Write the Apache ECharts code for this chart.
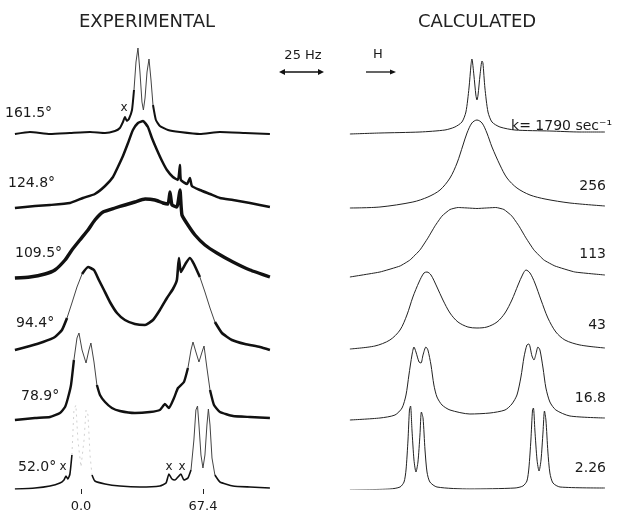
<!DOCTYPE html>
<html>
<head>
<meta charset="utf-8">
<script src="https://cdn.jsdelivr.net/npm/echarts@6/dist/echarts.min.js"></script>
<style>html,body{margin:0;padding:0;background:#fff}#c{width:638px;height:517px}</style>
</head>
<body>
<div id="c"></div>
<script>
// ---- Data: [frequency (Hz), intensity above baseline] ----
const tempLabels = ['161.5°', '124.8°', '109.5°', '94.4°', '78.9°', '52.0°'];
const rateLabels = ['k= 1790 sec⁻¹', '256', '113', '43', '16.8', '2.26'];
const tickValues = [0, 67.4];

const exp1 = [[-36.5,-1],[-28.2,1],[-17.1,-1],[-6.1,0],[5.0,1],[13.3,0],[18.8,2],[21.5,5],[23.2,11],[24.3,16],[25.4,12],[26.5,14],[28.2,23],[29.3,43],[30.4,71],[31.5,85],[32.6,61],[33.7,31],[34.5,23],[35.4,35],[36.5,61],[37.6,74],[38.7,53],[39.8,28],[41.4,13],[43.6,7],[48.1,3],[54.7,1],[65.7,-1],[76.8,1],[90.6,0],[104.4,-1]];
const exp2 = [[-36.5,-1],[-25.4,1],[-17.1,2],[-6.1,4],[1.1,9],[7.7,13],[13.3,21],[17.7,30],[20.4,40],[23.2,51],[26.0,64],[28.7,77],[31.5,84],[34.3,86],[37.0,80],[39.2,69],[42.0,57],[44.8,46],[47.5,37],[50.8,30],[53.6,27],[54.7,42],[55.2,27],[58.6,23],[60.2,29],[61.3,21],[65.7,17],[71.3,13],[76.8,9],[84.0,7],[93.4,4],[104.4,0]];
const exp3 = [[-36.5,-1],[-28.2,0],[-19.9,3],[-14.4,7],[-8.8,17],[-5.0,27],[-0.6,37],[3.9,47],[7.7,57],[12.2,65],[18.8,69],[24.3,72],[29.8,75],[35.4,78],[40.9,77],[45.3,74],[48.1,73],[49.2,85],[50.3,72],[53.0,70],[54.7,87],[55.8,62],[59.1,52],[63.0,42],[68.5,32],[75.1,24],[84.0,15],[93.4,7],[104.4,0]];
const exp4 = [[-36.5,0],[-28.2,4],[-21.0,8],[-14.4,13],[-10.5,20],[-7.7,32],[-5.0,47],[-2.2,63],[0.6,76],[3.9,83],[7.2,80],[9.9,70],[12.7,60],[16.0,48],[19.9,37],[24.3,30],[29.8,26],[35.4,25],[39.8,30],[43.6,40],[47.5,52],[50.8,61],[53.0,70],[54.1,92],[55.2,78],[58.0,87],[60.2,92],[62.4,86],[65.7,73],[68.5,58],[71.3,42],[74.0,28],[77.9,17],[83.4,10],[90.6,6],[98.9,3],[104.4,0]];
const exp5 = [[-36.5,-1],[-25.4,1],[-17.1,2],[-11.6,6],[-8.8,12],[-7.2,21],[-5.5,34],[-3.9,59],[-2.2,81],[-1.1,86],[0.6,69],[2.8,56],[4.4,69],[5.5,76],[7.2,57],[8.8,34],[10.5,24],[13.3,17],[17.1,11],[21.5,8],[29.8,6],[38.1,7],[43.6,9],[46.4,15],[48.6,11],[51.4,21],[53.6,31],[56.9,37],[59.1,51],[60.8,69],[61.9,77],[63.5,67],[65.2,57],[66.9,67],[68.0,73],[69.6,51],[71.3,29],[73.5,14],[76.8,7],[84.0,3],[93.4,2],[104.4,1]];
const exp6 = [[-36.5,-1],[-25.4,0],[-17.1,2],[-11.6,5],[-9.4,8],[-8.3,12],[-7.2,9],[-6.1,14],[-5.0,33],[-3.9,78],[-2.8,83],[-1.7,48],[0,21],[1.7,48],[2.8,78],[3.9,73],[5.0,33],[6.1,13],[7.7,7],[13.3,4],[21.5,2],[32.6,1],[43.6,2],[47.0,5],[48.6,14],[50.3,9],[51.9,8],[55.2,14],[56.9,8],[59.1,10],[60.8,18],[62.4,48],[63.5,78],[64.4,82],[65.2,63],[66.3,33],[67.4,20],[68.5,33],[69.6,63],[70.4,79],[71.3,63],[72.4,30],[74.0,13],[76.8,6],[84.0,2],[93.4,1],[104.4,0]];

const calc1 = [[-36.5,-1],[-19.9,0],[2.2,1],[16.0,3],[21.5,6],[25.4,11],[27.6,21],[29.3,45],[30.4,68],[30.9,74],[32.0,58],[33.1,38],[33.7,33],[34.3,38],[35.4,58],[36.5,72],[37.0,70],[38.1,45],[39.8,21],[42.0,11],[46.4,6],[54.7,3],[74.0,2],[90.6,1],[104.4,1]];
const calc2 = [[-36.5,-1],[-19.9,0],[-1.7,5],[6.6,10],[13.3,17],[18.8,29],[22.7,44],[26.0,62],[28.2,74],[30.9,84],[33.7,87],[36.5,84],[39.2,74],[42.0,60],[46.4,42],[50.3,29],[55.8,19],[63.0,12],[71.3,8],[85.1,4],[104.4,1]];
const calc3 = [[-36.5,0],[-19.9,5],[-8.8,11],[-3.3,17],[2.2,27],[6.6,39],[10.5,51],[14.4,61],[18.8,67.5],[23.2,69.5],[28.7,69],[33.7,68.5],[38.7,69],[44.2,69.5],[48.6,67.5],[53.0,61],[56.9,51],[60.8,39],[65.2,27],[70.7,17],[76.8,11],[87.8,5],[104.4,2]];
const calc4 = [[-36.5,0],[-22.7,3],[-14.4,9],[-8.8,19],[-5.0,34],[-1.7,52],[1.7,67],[4.4,76],[6.1,77],[8.3,74],[11.6,62],[14.9,49],[18.8,36],[23.2,27],[28.7,22],[33.7,21],[39.2,22],[44.8,27],[49.2,36],[53.0,49],[56.4,64],[59.1,75],[60.8,79],[63.0,76],[65.7,66],[69.1,49],[72.9,31],[77.3,17],[82.3,9],[90.6,4],[104.4,1]];
const calc5 = [[-36.5,-2],[-19.9,0],[-11.6,3],[-7.7,10],[-5.5,23],[-3.9,43],[-2.2,63],[-1.1,71],[0,66],[1.7,56],[2.8,55],[3.9,63],[5.5,71],[6.6,68],[8.3,53],[9.9,33],[11.6,21],[14.4,13],[18.8,8],[29.8,4],[40.9,5],[49.2,8],[53.0,14],[55.8,23],[58.0,41],[59.7,61],[61.3,73],[62.4,74],[64.1,62],[65.2,58],[66.3,64],[67.4,71],[68.5,68],[70.2,50],[71.8,30],[74.0,16],[77.3,8],[85.1,2],[104.4,0]];
const calc6 = [[-36.5,-1],[-14.4,0],[-8.8,2],[-6.6,7],[-5.5,19],[-4.4,49],[-3.6,79],[-3.0,83],[-2.2,59],[-1.1,29],[0,17],[1.1,27],[2.2,54],[3.0,77],[3.9,71],[5.0,39],[6.1,17],[7.7,7],[11.6,2],[29.8,0],[54.7,1],[59.1,3],[61.3,8],[62.4,21],[63.5,49],[64.4,79],[64.9,81],[65.7,59],[66.9,29],[68.0,18],[69.1,29],[70.2,57],[71.0,78],[71.8,69],[72.9,37],[74.0,16],[75.7,6],[79.6,2],[104.4,1]];

// ---- layout / styles (not data) ----
const H = 517;
const expBase = [133, 207, 277, 350, 419, 488];
const calcBase = [133, 207, 277, 349, 418, 489];
const expTraces = [exp1, exp2, exp3, exp4, exp5, exp6];
const calcTraces = [calc1, calc2, calc3, calc4, calc5, calc6];
const calcSmooth = [0.25, 0.3, 0.12, 0.3, 0.25, 0.25];
const expWidth = [2.0, 2.5, 3.4, 2.6, 2.4, 1.6];
const thinRanges = [
  [[29.3, 39.8, 'thin']],
  [],
  [],
  [[-7.7, 0.6, 'thin'], [65.7, 74.0, 'thin']],
  [[-3.9, 8.8, 'thin'], [59.1, 71.3, 'thin']],
  [[-5.0, 6.1, 'faint'], [60.8, 74.0, 'thin']]
];
const thinStyle = {thin: {color: '#444', width: 1, type: 'solid'}, faint: {color: '#d2d2d2', width: 1, type: [2, 4]}};

const series = [];
function yv(base, v) { return (H - base) + v; }
expTraces.forEach((tr, i) => {
  const ranges = thinRanges[i];
  const main = [];
  tr.forEach(p => {
    const inside = ranges.some(r => p[0] > r[0] && p[0] < r[1]);
    if (inside) { if (main.length && main[main.length - 1] !== null) main.push(null); }
    else main.push([p[0], yv(expBase[i], p[1])]);
  });
  series.push({type: 'line', xAxisIndex: 0, yAxisIndex: 0, data: main, showSymbol: false, connectNulls: false,
    smooth: 0.15, lineStyle: {color: '#111', width: expWidth[i], join: 'round'}, silent: true});
  ranges.forEach(r => {
    const d = tr.filter(p => p[0] >= r[0] && p[0] <= r[1]).map(p => [p[0], yv(expBase[i], p[1])]);
    const st = thinStyle[r[2]];
    series.push({type: 'line', xAxisIndex: 0, yAxisIndex: 0, data: d, showSymbol: false,
      lineStyle: {color: st.color, width: st.width, type: st.type}, silent: true});
  });
});
calcTraces.forEach((tr, i) => {
  series.push({type: 'line', xAxisIndex: 1, yAxisIndex: 1, data: tr.map(p => [p[0], yv(calcBase[i], p[1])]),
    showSymbol: false, smooth: calcSmooth[i], lineStyle: {color: '#222', width: 1}, silent: true});
});

const txt = (x, y, text, opt) => Object.assign({type: 'text', x: x, y: y, silent: true,
  style: Object.assign({text: text, fill: '#1a1a1a', font: '14px "DejaVu Sans"', textAlign: 'left', textVerticalAlign: 'middle'}, opt || {})});

const labelPos = [[5,113],[8,183],[15,253],[16,323],[21,396],[18,467]];
const ratePos = [[612,126],[606,186],[606,254],[606,325],[606,398],[606,468]];
const graphics = [
  txt(147, 22, 'EXPERIMENTAL', {font: '18px "DejaVu Sans"', textAlign: 'center', fill: '#222'}),
  txt(477, 22, 'CALCULATED', {font: '18px "DejaVu Sans"', textAlign: 'center', fill: '#222'}),
  txt(303, 56, '25 Hz', {font: '13px "DejaVu Sans"', textAlign: 'center'}),
  txt(378, 55, 'H', {font: '13px "DejaVu Sans"', textAlign: 'center'}),
  txt(124, 108, 'x', {font: '12px "DejaVu Sans"', textAlign: 'center'}),
  txt(63, 467, 'x', {font: '12px "DejaVu Sans"', textAlign: 'center'}),
  txt(169, 467, 'x', {font: '12px "DejaVu Sans"', textAlign: 'center'}),
  txt(182, 467, 'x', {font: '12px "DejaVu Sans"', textAlign: 'center'}),
  {type: 'line', shape: {x1: 281, y1: 72, x2: 321, y2: 72}, style: {stroke: '#111', lineWidth: 1.5}},
  {type: 'polygon', shape: {points: [[279,72],[285,69],[285,75]]}, style: {fill: '#111'}},
  {type: 'polygon', shape: {points: [[324,72],[318,69],[318,75]]}, style: {fill: '#111'}},
  {type: 'line', shape: {x1: 366, y1: 72, x2: 392, y2: 72}, style: {stroke: '#111', lineWidth: 1.3}},
  {type: 'polygon', shape: {points: [[396,72],[390,69.5],[390,74.5]]}, style: {fill: '#111'}}
];
tempLabels.forEach((t, i) => graphics.push(txt(labelPos[i][0], labelPos[i][1], t)));
rateLabels.forEach((t, i) => graphics.push(txt(ratePos[i][0], ratePos[i][1], t, {textAlign: 'right'})));

const chart = echarts.init(document.getElementById('c'), null, {renderer: 'canvas'});
chart.setOption({
  animation: false,
  backgroundColor: '#fff',
  grid: [
    {left: 14, width: 257, top: 0, bottom: 28},
    {left: 349, width: 257, top: 0, bottom: 28}
  ],
  xAxis: [
    {type: 'value', gridIndex: 0, min: -37, max: 105, splitLine: {show: false}, axisLine: {show: false},
     axisTick: {show: true, length: 5, customValues: tickValues, lineStyle: {color: '#222', width: 1}},
     axisLabel: {show: true, customValues: tickValues, margin: 11, color: '#1a1a1a', fontSize: 13, fontFamily: 'DejaVu Sans',
       formatter: v => v.toFixed(1)}},
    {type: 'value', gridIndex: 1, min: -37, max: 105, show: false}
  ],
  yAxis: [
    {type: 'value', gridIndex: 0, min: 28, max: 517, show: false},
    {type: 'value', gridIndex: 1, min: 28, max: 517, show: false}
  ],
  graphic: graphics,
  series: series
});
</script>
</body>
</html>
